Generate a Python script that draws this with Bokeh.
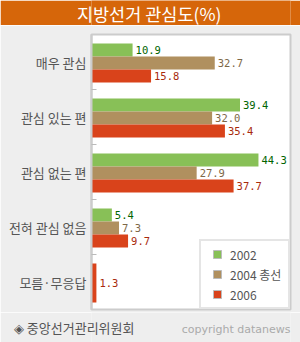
from bokeh.plotting import figure
from bokeh.models import Range1d, FixedTicker, Label, Legend, LegendItem, ColumnDataSource
from bokeh.layouts import column
from bokeh.embed import file_html
from bokeh.resources import INLINE
from bokeh.core.properties import value

title_text = "지방선거 관심도(%)"
categories = ["매우 관심", "관심 있는 편", "관심 없는 편", "전혀 관심 없음", "모름·무응답"]
series_names = ["2002", "2004 총선", "2006"]
v2002 = [10.9, 39.4, 44.3, 5.4, None]
v2004 = [32.7, 32.0, 27.9, 7.3, None]
v2006 = [15.8, 35.4, 37.7, 9.7, 1.3]
source_text = "◈ 중앙선거관리위원회"
copyright_text = "copyright datanews"

bar_colors = ["#88c057", "#b0905f", "#d9431b"]
label_colors = ["#006400", "#7d6848", "#a82a0c"]
series_values = [v2002, v2004, v2006]

BG = "#eeeeee"
ORANGE = "#d6660a"
GRID = "#cccccc"
LEFT, RIGHT = 91, 10


def strip_fig(height, fill, y_end):
    f = figure(width=300, height=height, x_range=Range1d(LEFT, 300 - RIGHT),
               y_range=Range1d(0, y_end), x_axis_location=None,
               toolbar_location=None, output_backend="svg",
               min_border_left=LEFT, min_border_right=RIGHT,
               min_border_top=0, min_border_bottom=0, outline_line_color=None,
               background_fill_color=fill, border_fill_color=fill)
    f.grid.visible = False
    ax = f.yaxis[0]
    ax.axis_line_color = None
    ax.major_tick_line_color = None
    ax.minor_tick_line_color = None
    ax.major_tick_out = 0
    ax.major_tick_in = 0
    return f


# ---------- header (text carried by a y-axis label so it is not clipped) ----------
header = strip_fig(25, ORANGE, 2)
hax = header.yaxis[0]
hax.ticker = FixedTicker(ticks=[1])
hax.major_label_overrides = {1: title_text}
hax.major_label_standoff = -130
hax.major_label_text_color = "white"
hax.major_label_text_font = "Noto Sans CJK KR"
hax.major_label_text_font_size = "17.5px"

# ---------- main chart ----------
n_cat = len(categories)
p = figure(width=300, height=287, x_range=Range1d(0, 52.8),
           y_range=Range1d(n_cat - 0.5, -0.5),
           x_axis_location=None, toolbar_location=None, output_backend="svg",
           min_border_left=LEFT, min_border_right=RIGHT, min_border_top=9, min_border_bottom=3,
           background_fill_color="white", border_fill_color=BG,
           outline_line_color=GRID, outline_line_width=2)
p.grid.visible = False

bar_h = 0.236
group_h = 3 * bar_h
shift = 0.018
legend_items = []
for s, (vals, name) in enumerate(zip(series_values, series_names)):
    ys, hs, xs, labels = [], [], [], []
    for i in range(n_cat):
        if vals[i] is None:
            continue
        present = [k for k in range(3) if series_values[k][i] is not None]
        h = group_h / len(present)
        k = present.index(s)
        ys.append(i - group_h / 2 + h * (k + 0.5) + shift)
        hs.append(h)
        xs.append(vals[i])
        labels.append("%.1f" % vals[i])
    src = ColumnDataSource(dict(y=ys, h=hs, x=xs, label=labels))
    p.hbar(y="y", height="h", left=0, right="x", source=src,
           fill_color=bar_colors[s], line_color=None)
    p.text(x="x", y="y", text="label", source=src, x_offset=3,
           text_align="left", text_baseline="middle", text_color=label_colors[s],
           text_font=value("DejaVu Sans Mono"), text_font_size="10.5px")
    r = p.scatter(x=[float("nan")], y=[float("nan")], marker="square", size=8,
                  fill_color=bar_colors[s], line_color="#bbbbbb", line_width=1)
    legend_items.append(LegendItem(label=name, renderers=[r]))

yax = p.yaxis[0]
yax.ticker = FixedTicker(ticks=list(range(n_cat)),
                         minor_ticks=[i + 0.5 for i in range(n_cat - 1)])
yax.major_label_overrides = {i: c for i, c in enumerate(categories)}
yax.major_tick_in = 0
yax.major_tick_out = 0
yax.minor_tick_in = 5
yax.minor_tick_out = 0
yax.minor_tick_line_color = "#bbbbbb"
yax.axis_line_color = GRID
yax.axis_line_width = 2
yax.major_label_standoff = 5
yax.major_label_text_font = "Noto Sans CJK KR"
yax.major_label_text_font_size = "13px"
yax.major_label_text_color = "#555555"

legend = Legend(items=legend_items, location="bottom_right", margin=0, padding=3,
                spacing=0, glyph_width=26, glyph_height=20, label_height=20,
                label_width=55, label_standoff=0, border_line_color=GRID,
                border_line_width=2, background_fill_color="white",
                background_fill_alpha=1.0, label_text_font="Noto Sans CJK KR",
                label_text_font_size="12px", label_text_color="#555555")
p.add_layout(legend)

# ---------- footer ----------
footer = strip_fig(30, BG, 30)
fax = footer.yaxis[0]
fax.ticker = FixedTicker(ticks=[15])
fax.major_label_overrides = {15: source_text}
fax.major_label_standoff = -43
fax.major_label_text_color = "#555555"
fax.major_label_text_font = "Noto Sans CJK KR"
fax.major_label_text_font_size = "13px"
footer.add_layout(Label(x=300 - RIGHT, y=13, text=copyright_text, text_align="right",
                        text_baseline="middle", text_color="#aaaaaa",
                        text_font="DejaVu Sans", text_font_size="11px"))

layout = column(header, p, footer, spacing=0)
open("out.html", "w").write(file_html(layout, INLINE))
